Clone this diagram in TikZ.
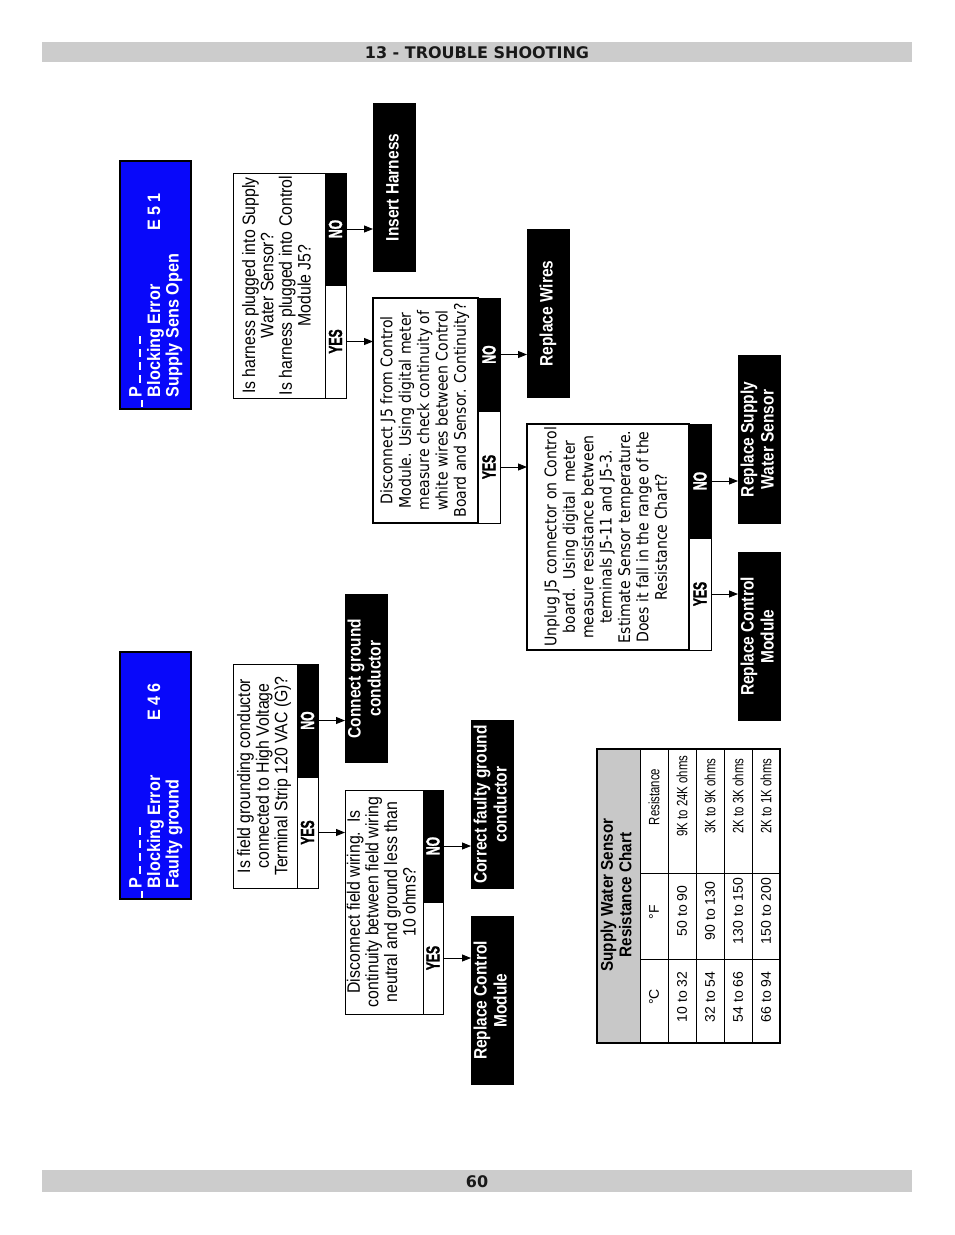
\documentclass[tikz,border=0pt]{standalone}
\usepackage{fontspec}
\usepackage{graphicx}
\usetikzlibrary{arrows.meta}
\setmainfont{Liberation Sans}
\newfontfamily\rgA[FakeStretch=0.88]{Liberation Sans}
\newfontfamily\bfA[FakeStretch=0.86]{Liberation Sans}
\newfontfamily\blA[FakeStretch=0.9]{Liberation Sans}
\newfontfamily\ynA[FakeStretch=0.64,FakeBold=1.2]{Liberation Sans}
\newfontfamily\tbN{Liberation Sans}
\newfontfamily\tbR[FakeStretch=0.76]{Liberation Sans}
\newfontfamily\dvA[FakeStretch=0.88]{DejaVu Sans}
\newfontfamily\hdA{DejaVu Sans}
\definecolor{bargray}{RGB}{204,204,204}
\definecolor{tabgray}{RGB}{200,200,200}
\definecolor{errblue}{RGB}{8,8,250}
\newcommand{\rtext}[2][c]{\rotatebox{90}{\begin{tabular}{@{}#1@{}}#2\end{tabular}}}
\newcommand{\dsh}{\rule[0.8pt]{8pt}{1.8pt}}
\newcommand{\dshlo}{\rule[-1.5pt]{7pt}{1.8pt}}
\begin{document}
\begin{tikzpicture}[x=1pt,y=-1pt,
  bar/.style={fill=bargray, inner sep=0pt, outer sep=0pt},
  bartext/.style={inner sep=0pt, text=black!90, font=\hdA\bfseries\fontsize{16}{16}\selectfont},
  qbox/.style={draw=black, line width=0.9pt, fill=white, inner sep=0pt, outer sep=0pt,
    font=\rgA\fontsize{18}{18.4}\selectfont},
  dbox/.style={qbox, font=\dvA\fontsize{16}{18.4}\selectfont},
  nobox/.style={draw=black, line width=0.9pt, fill=black, text=white, inner sep=0pt, outer sep=0pt,
    font=\ynA\bfseries\fontsize{19}{19}\selectfont},
  yesbox/.style={nobox, fill=white, text=black},
  resbox/.style={fill=black, text=white, inner sep=0pt, outer sep=0pt,
    font=\bfA\bfseries\fontsize{18}{20}\selectfont},
  errbox/.style={fill=errblue, draw=black, line width=1.5pt, inner sep=0pt, outer sep=0pt},
  errtext/.style={text=white, inner sep=0pt, outer sep=0pt, anchor=south,
    font=\blA\bfseries\fontsize{18}{18.5}\selectfont},
  arr/.style={-{Triangle[length=9pt,width=7pt]}, line width=0.9pt},
  tline/.style={line width=0.9pt},
  tcell/.style={inner sep=0pt, font=\tbN\fontsize{14}{14}\selectfont},
  rcell/.style={inner sep=0pt, font=\tbR\fontsize{15}{15}\selectfont}
]
\useasboundingbox (0,0) rectangle (954,1235);

% header and footer
\node[bar, minimum width=870pt, minimum height=20pt] (hdr) at (477,52) {};
\node[bartext] (hdrt) at (477,53) {13 - TROUBLE SHOOTING};
\node[bar, minimum width=870pt, minimum height=22pt] (ftr) at (477,1181) {};
\node[bartext] (ftrt) at (477,1182) {60};

% ---------- E51 chain ----------
\node[errbox, minimum width=71pt, minimum height=248pt] (e51) at (155.5,285) {};
\node[errtext] (e51t) at (156.4,397) {\rtext[l]{\llap{\dshlo\,}P\hspace{3pt}\dsh\hspace{5pt}\dsh\hspace{5pt}\dsh\hspace{5pt}\dsh\\
  \makebox[204pt][l]{Blocking Error\hfill E 5 1}\\ Supply Sens Open}};

\node[yesbox, minimum width=21pt, minimum height=113pt] (q1yes) at (335.5,341.5) {\rotatebox{90}{YES}};
\node[nobox, minimum width=21pt, minimum height=112pt] (q1no) at (335.5,229) {\rotatebox{90}{NO}};
\node[qbox, minimum width=92pt, minimum height=225pt] (q1) at (279,285.5)
  {\rtext{Is harness plugged into Supply\\ Water Sensor?\\ Is harness plugged into Control\\ Module J5?}};
\node[resbox, minimum width=43pt, minimum height=169pt] (ih) at (394.5,187.5) {\rtext{Insert Harness}};

\node[yesbox, minimum width=22pt, minimum height=112pt] (q2yes) at (489,467) {\rotatebox{90}{YES}};
\node[nobox, minimum width=22pt, minimum height=113pt] (q2no) at (489,354.5) {\rotatebox{90}{NO}};
\node[dbox, line width=1.8pt, minimum width=105pt, minimum height=225pt] (q2) at (425.5,410.5)
  {\rtext{Disconnect J5 from Control\\ Module. Using digital meter\\ measure check continuity of\\ white wires between Control\\ Board and Sensor. Continuity?}};
\node[resbox, minimum width=43pt, minimum height=169pt] (rw) at (548.5,313.5) {\rtext{Replace Wires}};

\node[yesbox, minimum width=22pt, minimum height=112pt] (q3yes) at (700,594) {\rotatebox{90}{YES}};
\node[nobox, minimum width=22pt, minimum height=114pt] (q3no) at (700,481) {\rotatebox{90}{NO}};
\node[dbox, line width=1.3pt, minimum width=162pt, minimum height=226pt] (q3) at (608,537)
  {\rtext{Unplug J5 connector on Control\\ board.\ \ Using digital\ \ meter\\ measure resistance between\\ terminals J5-11 and J5-3.\\ Estimate Sensor temperature.\\ Does it fall in the range of the\\ Resistance Chart?}};
\node[resbox, minimum width=43pt, minimum height=169pt] (rsws) at (759.5,439.5) {\rtext{Replace Supply\\ Water Sensor}};
\node[resbox, minimum width=43pt, minimum height=169pt] (rcm1) at (759.5,636.5) {\rtext{Replace Control\\ Module}};

\draw[arr] (q1no.east) -- (q1no.east -| ih.west);
\draw[arr] (q1yes.east) -- (q1yes.east -| q2.west);
\draw[arr] (q2no.east) -- (q2no.east -| rw.west);
\draw[arr] (q2yes.east) -- (q2yes.east -| q3.west);
\draw[arr] (q3no.east) -- (q3no.east -| rsws.west);
\draw[arr] (q3yes.east) -- (q3yes.east -| rcm1.west);

% ---------- E46 chain ----------
\node[errbox, minimum width=71pt, minimum height=247pt] (e46) at (155.5,775.5) {};
\node[errtext] (e46t) at (156.4,888) {\rtext[l]{\llap{\dshlo\,}P\hspace{3pt}\dsh\hspace{5pt}\dsh\hspace{5pt}\dsh\hspace{5pt}\dsh\\
  \makebox[205pt][l]{Blocking Error\hfill E 4 6}\\ Faulty ground}};

\node[yesbox, minimum width=21pt, minimum height=111pt] (q4yes) at (307.5,832.5) {\rotatebox{90}{YES}};
\node[nobox, minimum width=21pt, minimum height=113pt] (q4no) at (307.5,720.5) {\rotatebox{90}{NO}};
\node[qbox, minimum width=64pt, minimum height=224pt] (q4) at (265,776)
  {\rtext{Is field grounding conductor\\ connected to High Voltage\\ Terminal Strip 120 VAC (G)?}};
\node[resbox, minimum width=43pt, minimum height=169pt] (cgc) at (366.5,678.5) {\rtext{Connect ground\\ conductor}};

\node[yesbox, minimum width=20pt, minimum height=112pt] (q5yes) at (433,958) {\rotatebox{90}{YES}};
\node[nobox, minimum width=20pt, minimum height=112pt] (q5no) at (433,846) {\rotatebox{90}{NO}};
\node[qbox, minimum width=78pt, minimum height=224pt] (q5) at (384,902)
  {\rtext{Disconnect field wiring.\ \ Is\\ continuity between field wiring\\ neutral and ground less than\\ 10 ohms?}};
\node[resbox, minimum width=43pt, minimum height=169pt] (cfg) at (492.5,804.5) {\rtext{Correct faulty ground\\ conductor}};
\node[resbox, minimum width=43pt, minimum height=169pt] (rcm2) at (492.5,1000.5) {\rtext{Replace Control\\ Module}};

\draw[arr] (q4no.east) -- (q4no.east -| cgc.west);
\draw[arr] (q4yes.east) -- (q4yes.east -| q5.west);
\draw[arr] (q5no.east) -- (q5no.east -| cfg.west);
\draw[arr] (q5yes.east) -- (q5yes.east -| rcm2.west);

% ---------- resistance chart ----------
\fill[tabgray] (597,749) rectangle (640,1043);
\draw[tline, line width=1.2pt] (597,749) rectangle (780,1043);
\foreach \xx in {640,668,696,724,752} \draw[tline] (\xx,749) -- (\xx,1043);
\foreach \yy in {873,959} \draw[tline] (640,\yy) -- (780,\yy);
\node[inner sep=0pt, font=\blA\bfseries\fontsize{17}{18.5}\selectfont] (ttl) at (618.5,895)
  {\rtext{Supply Water Sensor\\ Resistance Chart}};
\node[tcell] (hc) at (654,997) {\rotatebox{90}{°C}};
\node[tcell] (hf) at (654,912) {\rotatebox{90}{°F}};
\node[rcell] (hr) at (654,797) {\rotatebox{90}{Resistance}};
\foreach \xx/\c/\f/\r [count=\i] in {682/10 to 32/50 to 90/9K to 24K ohms,
    710/32 to 54/90 to 130/3K to 9K ohms,
    738/54 to 66/130 to 150/2K to 3K ohms,
    766/66 to 94/150 to 200/2K to 1K ohms}{
  \node[tcell] (c\i) at (\xx,997) {\rotatebox{90}{\c}};
  \node[tcell] (f\i) at (\xx,911) {\rotatebox{90}{\f}};
  \node[rcell] (r\i) at (\xx,796) {\rotatebox{90}{\r}};
}
\end{tikzpicture}
\end{document}
